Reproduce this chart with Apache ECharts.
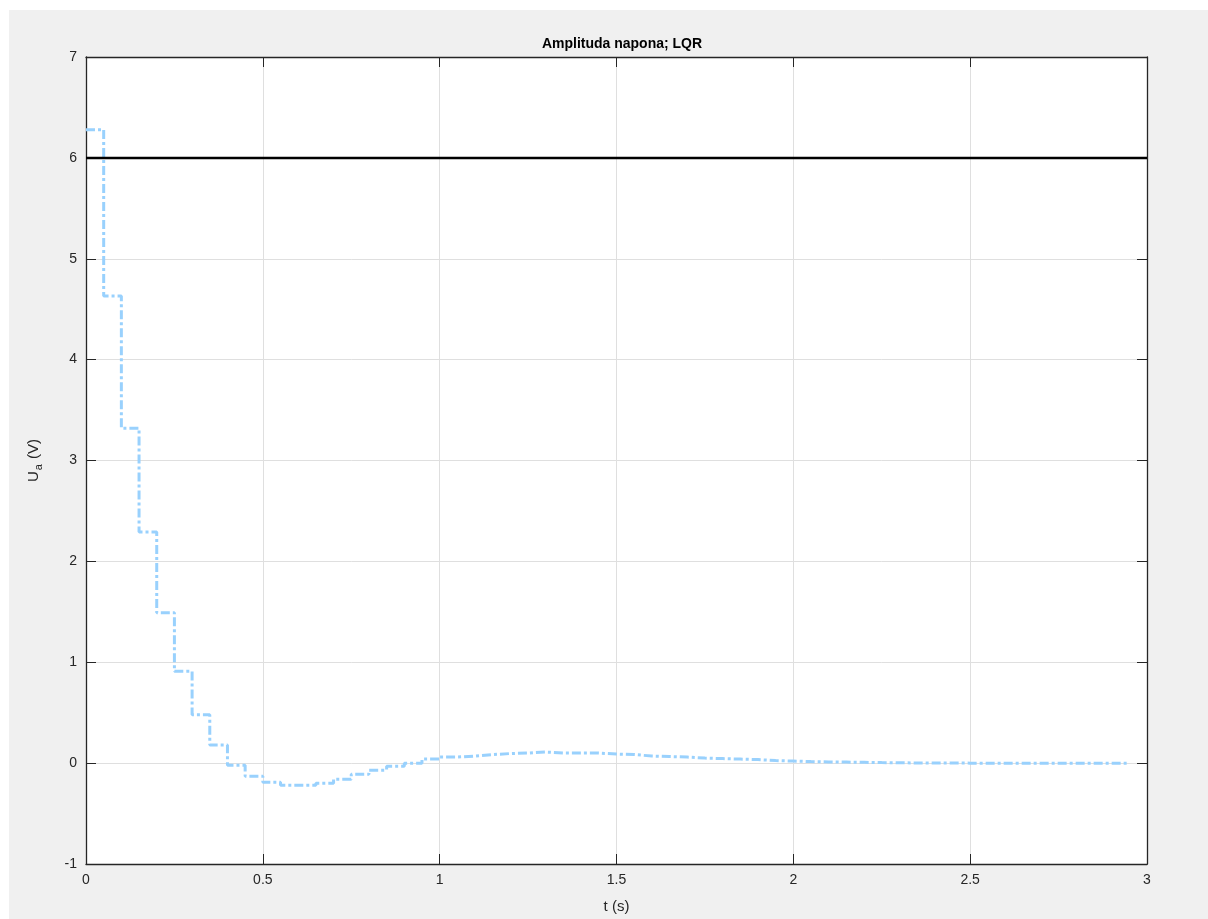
<!DOCTYPE html>
<html>
<head>
<meta charset="utf-8">
<script src="https://cdn.jsdelivr.net/npm/echarts@6/dist/echarts.min.js"></script>
<style>
html,body{margin:0;padding:0;background:#ffffff;overflow:hidden;}
#bg{position:absolute;left:9px;top:10px;width:1199px;height:909px;background:#f0f0f0;}
#chart{position:absolute;left:0;top:0;width:1208px;height:919px;}
</style>
</head>
<body>
<div id="bg"></div>
<div id="chart"></div>
<script>
// sample times (s), step 0.05
const sampleTimes = [0,0.05,0.1,0.15,0.2,0.25,0.3,0.35,0.4,0.45,0.5,0.55,0.6,0.65,0.7,0.75,0.8,0.85,0.9,0.95,
  1,1.05,1.1,1.15,1.2,1.25,1.3,1.35,1.4,1.45,1.5,1.55,1.6,1.65,1.7,1.75,1.8,1.85,1.9,1.95,
  2,2.05,2.1,2.15,2.2,2.25,2.3,2.35,2.4,2.45,2.5,2.55,2.6,2.65,2.7,2.75,2.8,2.85,2.9,2.95];
// control voltage Ua (V)
const voltage = [6.28,4.63,3.32,2.29,1.49,0.91,0.48,0.18,-0.02,-0.13,-0.19,-0.22,-0.22,-0.20,-0.16,-0.11,-0.07,-0.03,0.00,0.04,
  0.06,0.07,0.085,0.095,0.10,0.11,0.10,0.10,0.10,0.09,0.085,0.07,0.065,0.06,0.05,0.045,0.04,0.035,0.025,0.02,
  0.015,0.012,0.01,0.008,0.005,0.003,0.002,0.001,0.001,0,0,0,0,0,0,0,0,0,0,0];
// reference level
const refTimes = [0, 3];
const refLevel = [6, 6];
const xTicks = [0, 0.5, 1, 1.5, 2, 2.5, 3];
const yTicks = [-1, 0, 1, 2, 3, 4, 5, 6, 7];

const chart = echarts.init(document.getElementById('chart'), null, {renderer:'canvas'});
const font = 'Liberation Sans, Arial, Helvetica, sans-serif';
const axisCol = '#262626';
const gridCol = '#dfdfdf';
function fmt(v){ return String(v); }
const baseX = {
  type:'value', min:xTicks[0], max:xTicks[xTicks.length-1], interval:0.5,
  axisLine:{show:true, onZero:false, lineStyle:{color:axisCol, width:1.3}},
  axisTick:{show:true, inside:true, length:10, lineStyle:{color:axisCol}},
  splitLine:{show:false}
};
const baseY = {
  type:'value', min:yTicks[0], max:yTicks[yTicks.length-1], interval:1,
  axisLine:{show:true, onZero:false, lineStyle:{color:axisCol, width:1.3}},
  axisTick:{show:true, inside:true, length:10, lineStyle:{color:axisCol}},
  splitLine:{show:false}
};
chart.setOption({
  animation:false,
  backgroundColor:'transparent',
  title:{
    text:'Amplituda napona; LQR', left:617, top:32, textAlign:'center',
    textStyle:{fontFamily:font, fontSize:14, fontWeight:'bold', color:'#000'}
  },
  grid:{left:86, top:57, right:61, bottom:48, show:true, backgroundColor:'#ffffff', borderColor:axisCol, borderWidth:0},
  xAxis:[
    Object.assign({}, baseX, {
      position:'bottom',
      name:'t (s)', nameLocation:'middle', nameGap:35,
      nameTextStyle:{fontFamily:font, fontSize:15, color:axisCol},
      axisLabel:{show:true, fontFamily:font, fontSize:14, color:axisCol, margin:9, formatter:fmt},
      splitLine:{show:true, lineStyle:{color:gridCol, width:1}}
    }),
    Object.assign({}, baseX, {position:'top', axisLabel:{show:false}})
  ],
  yAxis:[
    Object.assign({}, baseY, {
      position:'left',
      name:'U{s|a} (V)', nameLocation:'middle', nameGap:42, nameRotate:90,
      nameTextStyle:{fontFamily:font, fontSize:15, color:axisCol,
        rich:{s:{fontFamily:font, fontSize:11, color:axisCol, verticalAlign:'bottom', padding:[10,1,0,1]}}},
      axisLabel:{show:true, fontFamily:font, fontSize:14, color:axisCol, margin:9, formatter:fmt},
      splitLine:{show:true, lineStyle:{color:gridCol, width:1}}
    }),
    Object.assign({}, baseY, {position:'right', axisLabel:{show:false}})
  ],
  series:[
    {
      type:'line', xAxisIndex:0, yAxisIndex:0, step:'end', symbol:'none',
      data: sampleTimes.map((t,i)=>[t, voltage[i]]),
      lineStyle:{color:'#99d1fd', width:3, type:[9,3,3,3]},
      z:3
    },
    {
      type:'line', xAxisIndex:0, yAxisIndex:0, symbol:'none',
      data: refTimes.map((t,i)=>[t, refLevel[i]]),
      lineStyle:{color:'#000000', width:2.5},
      z:4
    }
  ]
});
</script>
</body>
</html>
